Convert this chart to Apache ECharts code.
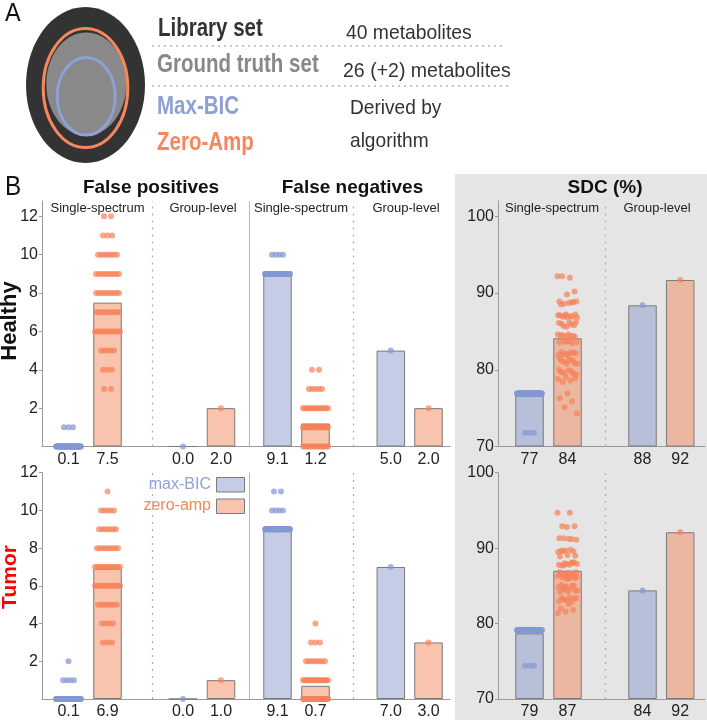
<!DOCTYPE html>
<html><head><meta charset="utf-8">
<script src="https://cdn.jsdelivr.net/npm/echarts@6/dist/echarts.min.js"></script>
<style>html,body{margin:0;padding:0;background:#fff}#c{width:707px;height:720px}</style>
</head><body><div id="c"></div>
<script>
// ---------------- DATA ----------------
const methods = ['max-BIC', 'zero-amp'];
const panelTitles = ['False positives', 'False negatives', 'SDC (%)'];
const subTitles = ['Single-spectrum', 'Group-level'];
const rowNames = ['Healthy', 'Tumor'];

// bar means: [FP single BIC, FP single ZA, FP group BIC, FP group ZA, FN single BIC, FN single ZA, FN group BIC, FN group ZA]
const barsHealthyCount = [0.1, 7.5, 0.0, 2.0, 9.1, 1.2, 5.0, 2.0];
const barsTumorCount   = [0.1, 6.9, 0.0, 1.0, 9.1, 0.7, 7.0, 3.0];
// SDC: [single BIC, single ZA, group BIC, group ZA]
const barsHealthySDC = [76.6, 84.1, 88.4, 91.7];
const barsTumorSDC   = [78.7, 87.0, 84.4, 92.1];

const countTicks = [2, 4, 6, 8, 10, 12];
const sdcTicks = [70, 80, 90, 100];

// single-spectrum dots as [value, number of spectra]
const dotsHealthyFPBic = [[0, 60], [1, 3]];
const dotsHealthyFPZa  = [[3, 2], [4, 3], [5, 5], [6, 12], [7, 10], [8, 10], [9, 10], [10, 8], [11, 3], [12, 2]];
const dotsHealthyFNBic = [[9, 60], [10, 4]];
const dotsHealthyFNZa  = [[0, 15], [1, 25], [2, 15], [3, 5], [4, 2]];
const dotsTumorFPBic = [[0, 58], [1, 4], [2, 1]];
const dotsTumorFPZa  = [[3, 3], [4, 4], [5, 8], [6, 12], [7, 14], [8, 9], [9, 7], [10, 5], [11, 1]];
const dotsTumorFNBic = [[9, 59], [10, 4], [11, 2]];
const dotsTumorFNZa  = [[0, 32], [1, 18], [2, 8], [3, 3], [4, 1]];

const sdcHealthyBic = [[76.9, 67], [71.8, 3]];
const sdcHealthyZa = [92.2, 92.0, 92.2, 90.2, 89.8,
  88.9, 88.8, 88.6, 88.9, 88.7, 88.5, 88.8,
  87.2, 87.1, 87.0, 86.9, 87.2, 86.8, 87.1, 86.9, 87.0, 86.8,
  86.2, 86.0, 85.8, 85.6, 86.1, 85.9, 85.7, 86.2,
  84.6, 84.5, 84.4, 84.3, 84.6, 84.4, 84.5, 84.3,
  83.7, 83.6, 83.5, 83.7, 83.6, 83.8,
  82.3, 82.2, 82.1, 81.9, 82.3, 82.0, 82.2, 81.9,
  81.4, 81.2, 81.0, 80.8, 81.3, 81.1, 80.9, 80.8,
  80.0, 79.8, 79.6, 79.4, 79.9, 79.7, 79.5,
  79.1, 78.8, 78.6, 78.4, 78.9,
  76.9, 76.3, 75.9, 75.1, 74.3];
const sdcTumorBic = [[79.1, 66], [74.4, 3]];
const sdcTumorZa = [94.7, 94.7, 92.9, 92.9, 92.8,
  91.3, 91.2, 91.3, 91.1, 91.2,
  89.7, 89.6, 89.7, 89.5, 89.8, 89.6, 89.0, 89.1, 88.9,
  88.1, 88.0, 87.9, 87.8, 87.7, 88.1, 87.9, 87.8, 88.0, 87.7,
  86.8, 86.7, 86.6, 86.5, 86.4, 86.3, 86.2, 86.1, 86.0, 85.9, 86.8, 86.6, 86.4, 86.2, 86.0,
  85.1, 85.0, 84.9, 84.8, 84.6, 84.5, 84.4, 84.3, 84.2, 85.0, 84.7, 84.4,
  83.5, 83.4, 83.3, 83.1, 83.0, 82.9, 83.2, 83.4,
  82.6, 82.0, 81.8, 81.6, 81.4];

// ---------------- LAYOUT / STYLE ----------------
const countSlots = [26.5, 65.5, 141, 179, 235.5, 273.5, 348.8, 386.5]; // axis units (1 unit = 1px)
const sdcSlots = [31.5, 69.5, 144.5, 182.2];
const BLUE_DOT = 'rgba(132,152,212,0.9)';
const ORANGE_DOT = 'rgba(246,130,88,0.88)';
const BLUE_BAR = 'rgba(139,155,205,0.5)';
const ORANGE_BAR = 'rgba(243,137,93,0.5)';
const BLUE_TXT = '#8fa0d6';
const ORANGE_TXT = '#f4875e';
const AXIS = '#9a9a9a';
const FONT = '"Liberation Sans", Arial, sans-serif';

function expandLevels(levels, slot) {
  const pts = [];
  levels.forEach(([v, c]) => {
    const hw = Math.min(12.5, 2.5 + (c - 1) * 1.0);
    for (let j = 0; j < c; j++) {
      const dx = c > 1 ? -hw + 2 * hw * j / (c - 1) : 0;
      pts.push([slot + dx, v]);
    }
  });
  return pts;
}
function expandList(vals, slot, hw) {
  return vals.map((v, i) => [slot + (((i * 0.618034) % 1) - 0.5) * 2 * hw, v]);
}

const grids = [
  {left: 42, top: 201, width: 408, height: 245.5},
  {left: 498, top: 201, width: 207, height: 245.5},
  {left: 42, top: 472.7, width: 408, height: 229},
  {left: 498, top: 472.7, width: 207, height: 229}
];

function xAxisFor(gi, slots, labels, max) {
  const map = new Map(slots.map((s, i) => [s, labels[i]]));
  return {gridIndex: gi, type: 'value', min: 0, max: max,
    axisLine: {show: true, onZero: false, lineStyle: {color: AXIS, width: 1}},
    axisTick: {show: false}, splitLine: {show: false},
    axisLabel: {customValues: slots, formatter: v => map.get(v) || '', color: '#222', fontSize: 16, fontFamily: FONT, margin: 5}};
}
function yAxisFor(gi, min, max, ticks) {
  return {gridIndex: gi, type: 'value', min: min, max: max, startValue: min,
    axisLine: {show: true, onZero: false, lineStyle: {color: AXIS, width: 1}},
    axisTick: {show: true, length: 3, customValues: ticks, lineStyle: {color: AXIS}},
    splitLine: {show: false},
    axisLabel: {customValues: ticks, color: '#222', fontSize: 16, fontFamily: FONT, margin: 4}};
}

function barSeries(gi, slots, vals, marks) {
  return {type: 'bar', xAxisIndex: gi, yAxisIndex: gi, barWidth: 28.5, clip: true, silent: true,
    itemStyle: {borderColor: '#7a7a7a', borderWidth: 1},
    data: vals.map((v, i) => ({value: [slots[i], v], itemStyle: {color: i % 2 ? ORANGE_BAR : BLUE_BAR}})),
    markLine: {silent: true, symbol: ['none', 'none'], label: {show: false},
      data: marks.map(m => ({xAxis: m[0], lineStyle: {color: m[1] ? '#b8b8b8' : '#b0b0b0', width: m[1] ? 1 : 1.3, type: m[1] ? 'solid' : [2, 5]}}))},
    z: 2};
}
function dotSeries(gi, pts, color) {
  return {type: 'scatter', xAxisIndex: gi, yAxisIndex: gi, symbolSize: 6, silent: true,
    itemStyle: {color: color}, data: pts, z: 4};
}

const series = [];
const xAxes = [], yAxes = [];
// count rows
[[0, barsHealthyCount, dotsHealthyFPBic, dotsHealthyFPZa, dotsHealthyFNBic, dotsHealthyFNZa, 12.8],
 [2, barsTumorCount, dotsTumorFPBic, dotsTumorFPZa, dotsTumorFNBic, dotsTumorFNZa, 12]].forEach(r => {
  const [gi, bars, fpB, fpZ, fnB, fnZ, ymax] = r;
  const s = countSlots;
  xAxes[gi] = xAxisFor(gi, s, bars.map(v => v.toFixed(1)), 408);
  yAxes[gi] = yAxisFor(gi, 0, ymax, countTicks);
  series.push(barSeries(gi, s, bars, [[110, 0], [207.3, 1], [311, 0]]));
  series.push(dotSeries(gi, [].concat(expandLevels(fpB, s[0]), [[s[2], bars[2]]], expandLevels(fnB, s[4]), [[s[6], bars[6]]]), BLUE_DOT));
  series.push(dotSeries(gi, [].concat(expandLevels(fpZ, s[1]), [[s[3], bars[3]]], expandLevels(fnZ, s[5]), [[s[7], bars[7]]]), ORANGE_DOT));
});
// SDC rows
[[1, barsHealthySDC, sdcHealthyBic, sdcHealthyZa, 102],
 [3, barsTumorSDC, sdcTumorBic, sdcTumorZa, 100]].forEach(r => {
  const [gi, bars, b, z, ymax] = r;
  const s = sdcSlots;
  xAxes[gi] = xAxisFor(gi, s, bars.map(v => String(Math.round(v))), 207);
  yAxes[gi] = yAxisFor(gi, 70, ymax, sdcTicks);
  series.push(barSeries(gi, s, bars, [[107, 0]]));
  series.push(dotSeries(gi, [].concat(expandLevels(b, s[0]), [[s[2], bars[2]]]), BLUE_DOT));
  series.push(dotSeries(gi, [].concat(expandList(z, s[1], 10), [[s[3], bars[3]]]), ORANGE_DOT));
});

function txt(x, y, text, o) {
  o = o || {};
  return {type: 'text', x: x, y: y, rotation: o.rot || 0, scaleX: o.sx || 1, z: 10,
    style: {text: text, fill: o.color || '#222', fontSize: o.size || 16, fontWeight: o.bold ? 'bold' : 'normal',
      fontFamily: o.font || FONT, textAlign: o.align || 'left', textVerticalAlign: 'middle'}};
}

const graphic = [
  {type: 'rect', shape: {x: 455, y: 174, width: 252, height: 546}, style: {fill: '#e5e5e5'}, z: -10},
  // panel A diagram
  {type: 'ellipse', shape: {cx: 85.5, cy: 85, rx: 59.5, ry: 78}, style: {fill: '#333333'}},
  {type: 'ellipse', shape: {cx: 86.3, cy: 84, rx: 40, ry: 51.5}, style: {fill: '#898989'}},
  {type: 'ellipse', shape: {cx: 85.5, cy: 88, rx: 42.3, ry: 59.5}, style: {fill: 'none', stroke: '#f4875e', lineWidth: 3}},
  {type: 'ellipse', shape: {cx: 86.2, cy: 96.3, rx: 29, ry: 38.8}, style: {fill: '#898989', stroke: '#8fa0d6', lineWidth: 3}},
  {type: 'line', shape: {x1: 152, y1: 46, x2: 505, y2: 46}, style: {stroke: '#b5b5b5', lineWidth: 1.5, lineDash: [2, 4]}},
  {type: 'line', shape: {x1: 152, y1: 86, x2: 512, y2: 86}, style: {stroke: '#b5b5b5', lineWidth: 1.5, lineDash: [2, 4]}},
  txt(5, 14, 'A', {size: 26, color: '#111', sx: 0.9}),
  txt(158, 29, 'Library set', {size: 25, bold: true, color: '#333', sx: 0.82}),
  txt(157, 65.5, 'Ground truth set', {size: 25, bold: true, color: '#888', sx: 0.82}),
  txt(157, 107, 'Max-BIC', {size: 25, bold: true, color: BLUE_TXT, sx: 0.82}),
  txt(157, 143, 'Zero-Amp', {size: 25, bold: true, color: ORANGE_TXT, sx: 0.82}),
  txt(346, 33.5, '40 metabolites', {size: 21, color: '#333', sx: 0.92}),
  txt(343, 71.5, '26 (+2) metabolites', {size: 21, color: '#333', sx: 0.93}),
  txt(350, 108, 'Derived by', {size: 21, color: '#333', sx: 0.91}),
  txt(350, 141, 'algorithm', {size: 21, color: '#333', sx: 0.91}),
  // panel B labels
  txt(5, 188, 'B', {size: 27, color: '#111', sx: 0.9}),
  txt(151, 188, panelTitles[0], {size: 19, bold: true, color: '#111', align: 'center'}),
  txt(352.5, 188, panelTitles[1], {size: 19, bold: true, color: '#111', align: 'center'}),
  txt(605, 188, panelTitles[2], {size: 19, bold: true, color: '#111', align: 'center'}),
  txt(97.5, 208, subTitles[0], {size: 13, align: 'center'}),
  txt(203, 208, subTitles[1], {size: 13, align: 'center'}),
  txt(301, 208, subTitles[0], {size: 13, align: 'center'}),
  txt(406, 208, subTitles[1], {size: 13, align: 'center'}),
  txt(552, 208, subTitles[0], {size: 13, align: 'center'}),
  txt(657, 208, subTitles[1], {size: 13, align: 'center'}),
  txt(10, 321, rowNames[0], {size: 22, bold: true, color: '#111', align: 'center', rot: Math.PI / 2}),
  txt(10, 577, rowNames[1], {size: 21, bold: true, color: '#ff0000', align: 'center', rot: Math.PI / 2}),
  // legend
  txt(211, 484.5, methods[0], {size: 16, color: BLUE_TXT, align: 'right'}),
  txt(211, 506, methods[1], {size: 16, color: ORANGE_TXT, align: 'right'}),
  {type: 'rect', shape: {x: 216.5, y: 477.5, width: 28, height: 14.5}, style: {fill: BLUE_BAR, stroke: '#7a7a7a', lineWidth: 1}, z: 10},
  {type: 'rect', shape: {x: 216.5, y: 499, width: 28, height: 14.5}, style: {fill: ORANGE_BAR, stroke: '#7a7a7a', lineWidth: 1}, z: 10}
];

const chart = echarts.init(document.getElementById('c'), null, {renderer: 'canvas', width: 707, height: 720});
chart.setOption({
  animation: false,
  backgroundColor: '#ffffff',
  grid: grids,
  xAxis: xAxes,
  yAxis: yAxes,
  series: series,
  graphic: {elements: graphic}
});
</script></body></html>
